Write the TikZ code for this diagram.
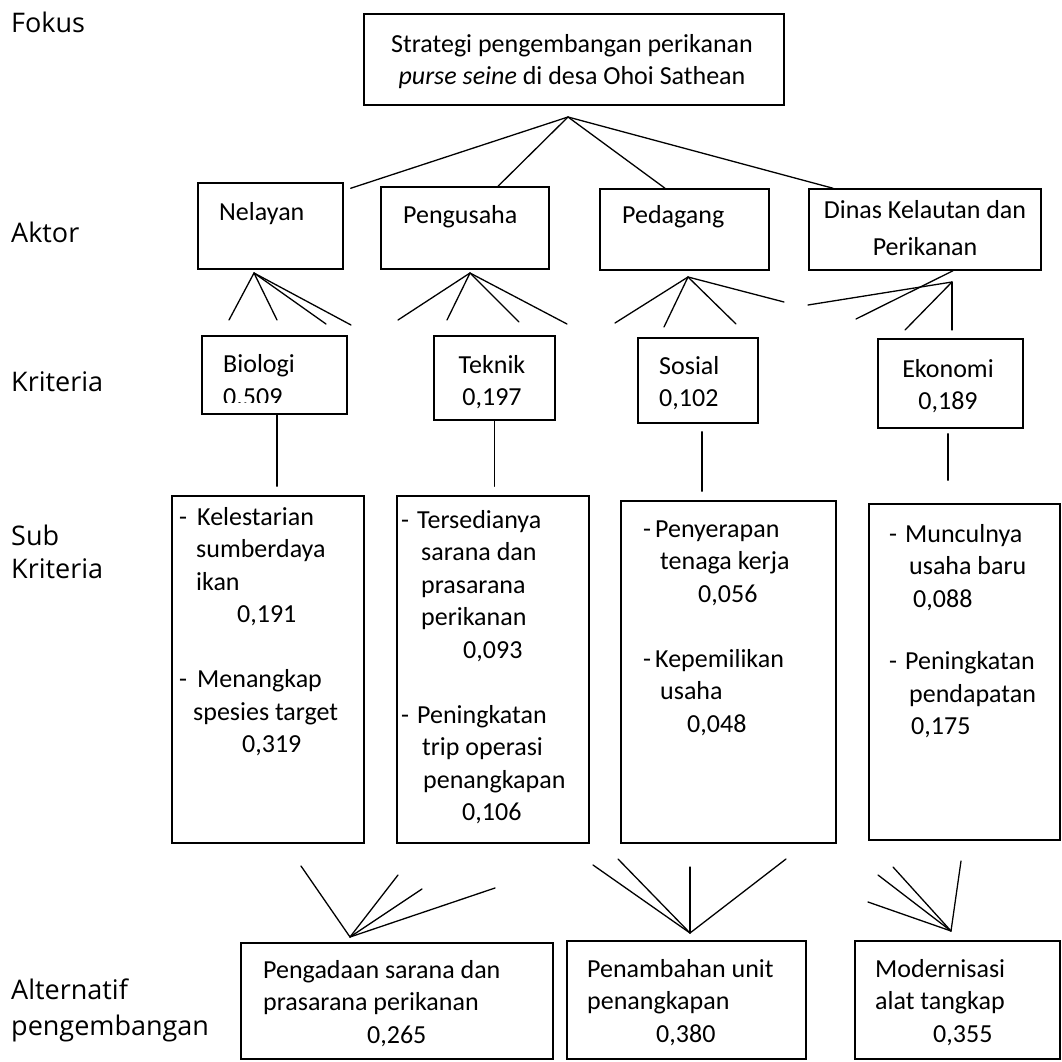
\documentclass[tikz,border=0pt]{standalone}
\usepackage{fontspec}
\setmainfont{Carlito}
\newfontfamily\levelfont{Open Sans}
\begin{document}
\begin{tikzpicture}[x=1pt, y=-1pt,
    % Gaya (teks banyak baris: anchor base = baris terakhir)
    kotak/.style 2 args={
        draw, line width=1.5pt, inner sep=0pt,
        minimum width=#1, minimum height=#2
    },
    teks/.style={
        font=\fontsize{26}{32.5}\selectfont, inner sep=0pt,
        anchor=base west, align=left
    },
    garis/.style={
        line width=1.3pt, line cap=round
    },
    level/.style={
        font=\levelfont\fontsize{27}{33}\selectfont, inner sep=0pt,
        anchor=base west, align=left
    }
]
\useasboundingbox (0,0) rectangle (1062,1062);

% =============================================
% LABEL LEVEL (kolom kiri)
% =============================================
\node[level] (lfokus)    at (11,33)  {Fokus};
\node[level] (laktor)    at (11,242) {Aktor};
\node[level] (lkriteria) at (11,391) {Kriteria};
\node[level] (lsub)      at (11,578) {Sub\\Kriteria};
\node[level, font=\levelfont\fontsize{27}{36}\selectfont] (lalt) at (11,1035) {Alternatif\\pengembangan};

% =============================================
% FOKUS
% =============================================
\node[kotak={420pt}{91pt}] (fokus) at (574,59.5) {};
\node[teks, align=center, anchor=base] (tfokus) at (572,85)
    {Strategi pengembangan perikanan\\\textit{purse seine} di desa Ohoi Sathean};

% =============================================
% AKTOR
% =============================================
\node[kotak={145pt}{86pt}] (nelayan) at (270.5,226) {};
\node[teks] (tnelayan) at (219,220) {Nelayan};

\node[kotak={168pt}{82pt}] (pengusaha) at (465,228) {};
\node[teks] (tpengusaha) at (403,223) {Pengusaha};

\node[kotak={169pt}{81pt}] (pedagang) at (684.5,229.5) {};
\node[teks] (tpedagang) at (622,223) {Pedagang};

\node[kotak={232pt}{81pt}] (dinas) at (925,229.5) {};
\node[teks, align=center, anchor=base, font=\fontsize{26}{37}\selectfont] (tdinas) at (925,255)
    {Dinas Kelautan dan\\Perikanan};

% garis fokus -> aktor
\coordinate (pfokus) at (568,117);
\draw[garis] (pfokus) -- ([shift={(7,6)}]nelayan.north east);
\draw[garis] (pfokus) -- ([xshift=33pt]pengusaha.north);
\draw[garis] (pfokus) -- ([xshift=-19.5pt]pedagang.north);
\draw[garis] (pfokus) -- ([xshift=-92pt]dinas.north);

% =============================================
% KRITERIA
% =============================================
\node[kotak={145pt}{78pt}] (biologi) at (274.5,375) {};
\begin{scope}
    \clip (202,336) rectangle (347,402);
    \node[teks] (tbiologi) at (223,405) {Biologi\\0.509};
\end{scope}

\node[kotak={121pt}{84pt}] (teknik) at (494.5,378) {};
\node[teks, align=center, anchor=base] (tteknik) at (492,405.5) {Teknik\\0,197};

\node[kotak={120pt}{85pt}] (sosial) at (698,380.5) {};
\node[teks] (tsosial) at (659,406.5) {Sosial\\0,102};

\node[kotak={145pt}{89pt}] (ekonomi) at (950.5,383.5) {};
\node[teks, align=center, anchor=base] (tekonomi) at (948,409.5) {Ekonomi\\0,189};

% garis aktor -> kriteria
\coordinate (pnelayan) at (254,273);
\foreach \x/\y [count=\i] in {229/320, 277/320, 326/324, 351/325} {
    \coordinate (nel\i) at (\x,\y);
    \draw[garis] (pnelayan) -- (nel\i);
}
\coordinate (ppengusaha) at (470,273);
\foreach \x/\y [count=\i] in {398/320, 447/320, 519/322, 567/324} {
    \coordinate (peng\i) at (\x,\y);
    \draw[garis] (ppengusaha) -- (peng\i);
}
\coordinate (ppedagang) at (688,277);
\foreach \x/\y [count=\i] in {615/323, 664/327, 736/324, 784/302} {
    \coordinate (ped\i) at (\x,\y);
    \draw[garis] (ppedagang) -- (ped\i);
}
\coordinate (pdinas) at (952,282);
\foreach \x/\y [count=\i] in {808/305, 905/330, 952/330} {
    \coordinate (din\i) at (\x,\y);
    \draw[garis] (pdinas) -- (din\i);
}
\coordinate (din0) at (856,319);
\draw[garis] ([xshift=28pt]dinas.south) -- (din0);

% =============================================
% SUB KRITERIA
% =============================================
\node[kotak={192pt}{347pt}] (sub1) at (268,669.5) {};
\node[teks] (tsub1) at (179,752.5) {\makebox[18pt][l]{-}Kelestarian\\%
    \hspace*{17pt}sumberdaya\\%
    \hspace*{17pt}ikan\\%
    \hspace*{58pt}0,191\\[32.5pt]%
    \makebox[18pt][l]{-}Menangkap\\%
    \hspace*{14pt}spesies target\\%
    \hspace*{63pt}0,319};

\node[kotak={192pt}{347pt}] (sub2) at (493,669.5) {};
\node[teks] (tsub2) at (401,820.5) {\makebox[16pt][l]{-}Tersedianya\\%
    \hspace*{20pt}sarana dan\\%
    \hspace*{20pt}prasarana\\%
    \hspace*{20pt}perikanan\\%
    \hspace*{62pt}0,093\\[32.5pt]%
    \makebox[16pt][l]{-}Peningkatan\\%
    \hspace*{21pt}trip operasi\\%
    \hspace*{22pt}penangkapan\\%
    \hspace*{61pt}0,106};

\node[kotak={215pt}{342pt}] (sub3) at (728.5,672) {};
\node[teks] (tsub3) at (643,732) {\makebox[12pt][l]{-}Penyerapan\\%
    \hspace*{17pt}tenaga kerja\\%
    \hspace*{55pt}0,056\\[32.5pt]%
    \makebox[12pt][l]{-}Kepemilikan\\%
    \hspace*{17pt}usaha\\%
    \hspace*{44pt}0,048};

\node[kotak={191pt}{336pt}] (sub4) at (964.5,672) {};
\node[teks] (tsub4) at (889,734.5) {\makebox[16pt][l]{-}Munculnya\\%
    \hspace*{20pt}usaha baru\\%
    \hspace*{24pt}0,088\\[30pt]%
    \makebox[16pt][l]{-}Peningkatan\\%
    \hspace*{20pt}pendapatan\\%
    \hspace*{22pt}0,175};

% garis kriteria -> sub kriteria
\coordinate (kb1) at ([xshift=2.5pt]biologi.south);
\draw[garis, shorten >=9pt] (kb1) -- (kb1 |- sub1.north);
\coordinate (kb2) at (teknik.south);
\draw[garis, shorten >=9pt] (kb2) -- (kb2 |- sub2.north);
\coordinate (kb3) at ([xshift=4pt]sosial.south);
\draw[garis, shorten <=8pt, shorten >=9pt] (kb3) -- (kb3 |- sub3.north);
\coordinate (kb4) at ([xshift=-2.5pt]ekonomi.south);
\draw[garis, shorten <=5pt, shorten >=23pt] (kb4) -- (kb4 |- sub4.north);

% =============================================
% ALTERNATIF PENGEMBANGAN
% =============================================
\node[kotak={312pt}{116pt}] (alt1) at (397,1001) {};
\node[teks] (talt1) at (263,1043) {Pengadaan sarana dan\\prasarana perikanan\\\hspace*{104pt}0,265};

\node[kotak={239pt}{118pt}] (alt2) at (686.5,1000) {};
\node[teks] (talt2) at (587,1042) {Penambahan unit\\penangkapan\\\hspace*{69pt}0,380};

\node[kotak={205pt}{118pt}] (alt3) at (957.5,1000) {};
\node[teks] (talt3) at (875,1042) {Modernisasi\\alat tangkap\\\hspace*{58pt}0,355};

% garis sub kriteria -> alternatif
\coordinate (palt1) at (350,937);
\foreach \x/\y [count=\i] in {301/866, 398/875, 422/889, 495/888} {
    \coordinate (alA\i) at (\x,\y);
    \draw[garis] (palt1) -- (alA\i);
}
\coordinate (palt2) at (690,933);
\foreach \x/\y [count=\i] in {593/865, 618/859, 690/867, 786/859} {
    \coordinate (alB\i) at (\x,\y);
    \draw[garis] (palt2) -- (alB\i);
}
\coordinate (palt3) at (951,931);
\foreach \x/\y [count=\i] in {868/902, 878/875, 893/867, 961/861} {
    \coordinate (alC\i) at (\x,\y);
    \draw[garis] (palt3) -- (alC\i);
}

\end{tikzpicture}
\end{document}
